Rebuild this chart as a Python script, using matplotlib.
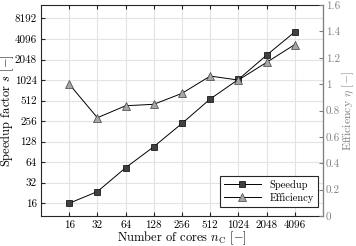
import numpy as np
from matplotlib import pyplot as plt

cores = [16, 32, 64, 128, 256, 512, 1024, 2048, 4096]
speedup = [16, 23.7, 53, 108, 237, 540, 1046, 2370, 5200]
efficiency = [1.0, 0.745, 0.836, 0.847, 0.93, 1.061, 1.031, 1.165, 1.30]
left_ticks = [16, 32, 64, 128, 256, 512, 1024, 2048, 4096, 8192]
right_ticks = [0, 0.2, 0.4, 0.6, 0.8, 1, 1.2, 1.4, 1.6]

plt.rcParams['font.family'] = 'cmr10'
plt.rcParams['mathtext.fontset'] = 'cm'
plt.rcParams['axes.formatter.use_mathtext'] = True

fig = plt.figure(figsize=(3.56, 2.46), dpi=100)
ax = fig.add_axes([41 / 356, 30 / 246, 282 / 356, 211 / 246])
ax2 = ax.twinx()

ax.set_xscale('log', base=2)
ax.set_yscale('log', base=2)
ax.set_xlim(8, 8192)
ax.set_ylim(10.4, 12900)
ax.set_xticks(cores)
ax.set_xticklabels([str(c) for c in cores])
ax.set_yticks(left_ticks)
ax.set_yticklabels([str(t) for t in left_ticks])
ax.minorticks_off()
ax.grid(True, color='#e3e3e3', linewidth=0.8)
ax.set_axisbelow(True)
ax.tick_params(direction='in', length=3, labelsize=8, top=True, colors='#262626', labelcolor='black')
ax.tick_params(axis='x', pad=3)
ax.tick_params(axis='y', pad=3)

l1, = ax.plot(cores, speedup, color='black', linewidth=0.7, marker='s', markersize=4.5,
              markerfacecolor='#404040', markeredgecolor='black', markeredgewidth=0.5, label='Speedup')
l2, = ax2.plot(cores, efficiency, color='black', linewidth=0.7, marker='^', markersize=6,
               markerfacecolor='#a6a6a6', markeredgecolor='#404040', markeredgewidth=0.5, label='Efficiency')

ax2.set_ylim(0, 1.6)
ax2.set_yticks(right_ticks)
ax2.set_yticklabels(['0', '0.2', '0.4', '0.6', '0.8', '1', '1.2', '1.4', '1.6'])
ax2.tick_params(direction='in', length=3, labelsize=8, pad=2, colors='#808080', labelcolor='#808080')
ax2.spines['right'].set_color('#808080')
for s in ['left', 'top', 'bottom']:
    ax.spines[s].set_color('#262626')
    ax2.spines[s].set_visible(False)

ax.set_xlabel(r'Number of cores $n_{\mathrm{C}}$ $[-]$', fontsize=9, labelpad=0)
ax.set_ylabel(r'Speedup factor $s$ $[-]$', fontsize=9)
ax2.set_ylabel(r'Efficiency $\eta$ $[-]$', fontsize=8.5, color='#808080')
# place the y labels where they sit in the reference
ax.yaxis.set_label_coords((16 - 41) / 282, 0.5)
ax2.yaxis.set_label_coords((341 - 41) / 282, 0.5)

leg = ax2.legend(handles=[l1, l2], loc='lower right', fontsize=7.5, fancybox=False,
                 bbox_to_anchor=((318 - 41) / 282, (216 - 207) / 211), borderaxespad=0,
                 edgecolor='#262626', framealpha=1, handlelength=3.6,
                 labelspacing=0.3, borderpad=0.4)
leg.get_frame().set_linewidth(0.8)

plt.savefig('out.png', dpi=100)
